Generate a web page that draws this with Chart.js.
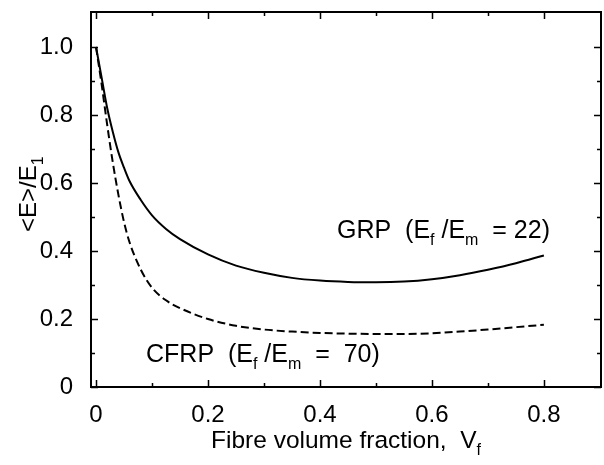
<!DOCTYPE html>
<html>
<head>
<meta charset="utf-8">
<script src="https://cdn.jsdelivr.net/npm/chart.js@4.4.0/dist/chart.umd.min.js"></script>
<style>
  body { margin: 0; background: #fff; }
  #wrap { width: 604px; height: 465px; }
</style>
</head>
<body>
<div id="wrap"><canvas id="stiffChart" width="604" height="465"></canvas></div>
<script>
// fibre volume fraction
const vf = [0, 0.01, 0.02, 0.03, 0.04, 0.05, 0.06, 0.08, 0.1, 0.125, 0.15, 0.2, 0.25,
            0.3, 0.35, 0.4, 0.45, 0.5, 0.55, 0.6, 0.65, 0.7, 0.75, 0.8];
// <E>/E1, glass fibre (Ef/Em = 22)
const grp = [1.0, 0.91, 0.82, 0.75, 0.69, 0.645, 0.605, 0.55, 0.505, 0.465, 0.435, 0.39, 0.357,
             0.336, 0.321, 0.313, 0.309, 0.308, 0.31, 0.317, 0.329, 0.345, 0.364, 0.387];
// <E>/E1, carbon fibre (Ef/Em = 70)
const cfrp = [1.0, 0.89, 0.77, 0.66, 0.565, 0.485, 0.425, 0.345, 0.292, 0.255, 0.232, 0.2, 0.18,
              0.169, 0.163, 0.159, 0.157, 0.156, 0.156, 0.158, 0.163, 0.169, 0.176, 0.183];

const xTicks = [0, 0.2, 0.4, 0.6, 0.8];
const xTickLabels = ["0", "0.2", "0.4", "0.6", "0.8"];
const xMinor = [0.1, 0.3, 0.5, 0.7];
const yTicks = [0, 0.2, 0.4, 0.6, 0.8, 1.0];
const yTickLabels = ["0", "0.2", "0.4", "0.6", "0.8", "1.0"];
const yMinor = [0.1, 0.3, 0.5, 0.7, 0.9];

const FONT = "'Liberation Sans', Arial, sans-serif";

function pts(ys) {
    return vf.map((x, i) => ({ x: x, y: ys[i] }));
}

// text runs with subscripts drawn along a baseline
function drawRuns(ctx, runs, x, y, size) {
    runs.forEach(r => {
        if (r.sub) {
            ctx.font = "16px " + FONT;
            ctx.fillText(r.t, x, y + 7);
        } else {
            ctx.font = size + "px " + FONT;
            ctx.fillText(r.t, x, y);
        }
        x += ctx.measureText(r.t).width;
    });
}

const framePlugin = {
    id: "frame",
    afterDraw(chart) {
        const ctx = chart.ctx;
        const a = chart.chartArea;
        const sx = chart.scales.x, sy = chart.scales.y;
        ctx.save();
        ctx.strokeStyle = "#000";
        ctx.lineWidth = 2;
        ctx.strokeRect(a.left, a.top, a.right - a.left, a.bottom - a.top);

        ctx.lineWidth = 1.5;
        ctx.beginPath();
        const xt = (v, len) => {
            const p = Math.round(sx.getPixelForValue(v)) + 0.5;
            ctx.moveTo(p, a.bottom); ctx.lineTo(p, a.bottom - len);
            ctx.moveTo(p, a.top); ctx.lineTo(p, a.top + len);
        };
        const yt = (v, len) => {
            const p = Math.round(sy.getPixelForValue(v)) + 0.5;
            ctx.moveTo(a.left, p); ctx.lineTo(a.left + len, p);
            ctx.moveTo(a.right, p); ctx.lineTo(a.right - len, p);
        };
        xTicks.forEach(v => xt(v, 7));
        xMinor.forEach(v => xt(v, 4));
        yTicks.forEach(v => yt(v, 7));
        yMinor.forEach(v => yt(v, 4));
        ctx.stroke();

        ctx.fillStyle = "#000";
        ctx.textAlign = "left";
        ctx.textBaseline = "alphabetic";

        // axis titles
        drawRuns(ctx, [{ t: "Fibre volume fraction,  V" }, { t: "f", sub: true }], 211, 448, 24.5);
        ctx.save();
        ctx.translate(36, 232);
        ctx.rotate(-Math.PI / 2);
        drawRuns(ctx, [{ t: "<E>/E" }, { t: "1", sub: true }], 0, 0, 24);
        ctx.restore();

        // curve labels
        drawRuns(ctx, [{ t: "GRP  (E" }, { t: "f", sub: true }, { t: " /E" }, { t: "m", sub: true }, { t: "  = 22)" }], 337, 238, 25);
        drawRuns(ctx, [{ t: "CFRP  (E" }, { t: "f", sub: true }, { t: " /E" }, { t: "m", sub: true }, { t: "  =  70)" }], 146, 362, 25);
        ctx.restore();
    }
};

const ctx = document.getElementById("stiffChart").getContext("2d");

let stiffChart = new Chart(ctx, {
    type: "scatter",
    data: {
        datasets: [{
            label: "GRP",
            data: pts(grp),
            showLine: true,
            borderColor: "#000",
            borderWidth: 2,
            pointRadius: 0,
            cubicInterpolationMode: "monotone",
            fill: false
        }, {
            label: "CFRP",
            data: pts(cfrp),
            showLine: true,
            borderColor: "#000",
            borderWidth: 2,
            borderDash: [8, 4],
            pointRadius: 0,
            cubicInterpolationMode: "monotone",
            fill: false
        }]
    },
    options: {
        responsive: false,
        animation: false,
        layout: { padding: { left: 0, right: 3, top: 12, bottom: 0 } },
        plugins: {
            legend: { display: false },
            tooltip: { enabled: false }
        },
        scales: {
            x: {
                type: "linear",
                min: -0.009,
                max: 0.902,
                grid: { display: false },
                border: { display: false },
                afterBuildTicks: s => { s.ticks = xTicks.map(v => ({ value: v })); },
                afterFit: s => { s.height = 78; s.paddingLeft = 0; s.paddingRight = 0; },
                ticks: {
                    padding: 6,
                    color: "#000",
                    font: { family: FONT, size: 24 },
                    maxRotation: 0,
                    callback: v => xTickLabels[xTicks.indexOf(v)]
                }
            },
            y: {
                type: "linear",
                min: 0,
                max: 1.103,
                grid: { display: false },
                border: { display: false },
                afterBuildTicks: s => { s.ticks = yTicks.map(v => ({ value: v })); },
                afterFit: s => { s.width = 91; s.paddingTop = 0; s.paddingBottom = 0; },
                ticks: {
                    padding: 10,
                    color: "#000",
                    font: { family: FONT, size: 24 },
                    callback: v => yTickLabels[yTicks.indexOf(v)]
                }
            }
        }
    },
    plugins: [framePlugin]
});
</script>
</body>
</html>
